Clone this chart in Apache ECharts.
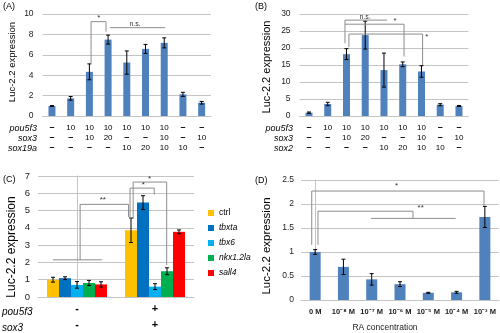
<!DOCTYPE html>
<html><head><meta charset="utf-8">
<script src="https://cdn.jsdelivr.net/npm/echarts@6/dist/echarts.min.js"></script>
<style>html,body{margin:0;padding:0;background:#fff}#c{width:500px;height:333px}</style>
</head><body><div id="c"></div>
<script>
// ---------- DATA ----------
const aCols = ['1','2','3','4','5','6','7','8','9'];
const aPou5f3 = ['–','10','10','10','10','10','10','–','–'];
const aSox3   = ['–','–','10','20','–','–','10','–','10'];
const aSox19a = ['–','–','–','–','10','20','10','10','–'];
const aValues = [0.98,1.73,4.33,7.49,5.24,6.58,7.17,2.12,1.3];
const aErrors = [0.04,0.18,0.78,0.44,1.14,0.44,0.49,0.2,0.13];
const aTicks = [0,2,4,6,8,10];

const bCols = ['1','2','3','4','5','6','7','8','9'];
const bPou5f3 = ['–','10','10','10','10','10','10','–','–'];
const bSox3   = ['–','–','10','20','–','–','10','–','10'];
const bSox2   = ['–','–','–','–','10','20','10','10','–'];
const bValues = [0.98,3.53,18.2,23.8,13.5,15.2,13.1,3.33,2.94];
const bErrors = [0.2,0.5,1.6,4.1,5.0,0.7,1.7,0.3,0.15];

const cGroups = ['-','+'];
const cSox3Row = ['-','+'];
const cSeriesNames = ['ctrl','tbxta','tbx6','nkx1.2la','sall4'];
const cCtrl    = [1.0, 3.86];
const cTbxta   = [1.09, 5.46];
const cTbx6    = [0.7, 0.6];
const cNkx     = [0.81, 1.49];
const cSall4   = [0.73, 3.77];
const cCtrlErr  = [0.14, 0.71];
const cTbxtaErr = [0.08, 0.4];
const cTbx6Err  = [0.19, 0.17];
const cNkxErr   = [0.15, 0.2];
const cSall4Err = [0.15, 0.11];

const dConc = ['0 M','10⁻⁸ M','10⁻⁷ M','10⁻⁶ M','10⁻⁵ M','10⁻⁴ M','10⁻³ M'];
const dValues = [1.0,0.69,0.43,0.33,0.15,0.16,1.73];
const dErrors = [0.05,0.16,0.12,0.05,0.01,0.02,0.22];

// significance brackets (data coordinates: [category position, value])
const aBrackets = [
  [[2.09,5.2],[2.09,9.25],[2.89,9.25],[2.89,8.27]],
  [[3.1,8.66],[6.05,8.66]]
];
const aMarks = [['*',2.5,9.6],['n.s.',4.44,9.05]];
const bBrackets = [
  [[1.92,21.4],[1.92,28.2],[4.16,28.2]],
  [[1.92,27.0],[5.07,27.0],[5.07,17.5]],
  [[2.13,20.2],[2.13,24.1],[6.06,24.1],[6.06,15.0]]
];
const bMarks = [['n.s.',2.99,29.2],['*',4.59,27.9],['*',6.28,23.2]];
const cBrackets = [
  [[-0.31,2.15],[0.32,2.15]],
  [[0.04,2.15],[0.04,5.36],[0.66,5.36],[0.66,4.63]],
  [[0.68,4.52],[0.68,6.3],[0.99,6.3],[0.99,5.93]],
  [[0.72,4.52],[0.72,6.65],[1.15,6.65],[1.15,1.85]]
];
const cMarks = [['**',0.33,5.6],['*',0.85,6.5],['*',0.93,6.85]];
const dBrackets = [
  [[-0.12,1.15],[-0.12,2.27],[5.97,2.27],[5.97,1.96]],
  [[0.1,1.15],[0.1,1.85],[3.46,1.85],[3.46,1.70]],
  [[1.97,1.70],[4.97,1.70]]
];
const dMarks = [['*',2.88,2.37],['**',3.73,1.93]];

// ---------- CHART ----------
const BLUE = '#4F81BD';
const cColors = ['#FFC000','#0070C0','#00B0F0','#00B050','#FF0000'];
const GRID_COLOR = '#c4c4c4';
const FONT = 'Liberation Sans, Arial, sans-serif';

const grids = [
  {left:42.6, top:14, width:168.4, height:102},
  {left:299.6, top:14, width:168.75, height:102},
  {left:38, top:176, width:156, height:124},
  {left:301, top:180, width:198, height:120}
];
const nCats = [aCols.length, bCols.length, cGroups.length, dConc.length];

function tableFormatter(r1, r2, r3) {
  return function (val, idx) {
    const f = s => s === '–' ? '{d|–}' : '{n|' + s + '}';
    return f(r1[idx]) + '\n' + f(r2[idx]) + '\n' + f(r3[idx]);
  };
}
const tableRich = {
  d: {fontSize: 9, fontWeight: 'bold', lineHeight: 10, color: '#000', fontFamily: FONT},
  n: {fontSize: 8, lineHeight: 10, color: '#000', fontFamily: FONT}
};

const catAxisBase = {
  type: 'category',
  axisTick: {show: false},
  axisLine: {lineStyle: {color: GRID_COLOR}},
};
const xAxes = [
  Object.assign({}, catAxisBase, {gridIndex:0, data:aCols,
    axisLabel:{margin:7, formatter: tableFormatter(aPou5f3,aSox3,aSox19a), rich: tableRich, interval:0}}),
  Object.assign({}, catAxisBase, {gridIndex:1, data:bCols,
    axisLabel:{margin:7, formatter: tableFormatter(bPou5f3,bSox3,bSox2), rich: tableRich, interval:0}}),
  Object.assign({}, catAxisBase, {gridIndex:2, data:cGroups,
    axisLabel:{margin:4, interval:0, fontSize:11, fontWeight:'bold', lineHeight:16, color:'#000', fontFamily: FONT,
      formatter:(v,i)=> cGroups[i] + '\n' + cSox3Row[i]}}),
  Object.assign({}, catAxisBase, {gridIndex:3, data:dConc,
    axisLabel:{margin:8, interval:0, fontSize:7.5, fontWeight:'bold', color:'#222', fontFamily: FONT}}),
];
for (let g = 0; g < 4; g++) {
  xAxes.push({type:'value', gridIndex:g, min:-0.5, max:nCats[g]-0.5, show:false, splitLine:{show:false}});
}

function yAxis(g, max, interval, fs, margin, showLine) {
  return {
    type:'value', gridIndex:g, min:0, max:max, interval:interval,
    axisLine:{show:showLine, lineStyle:{color:GRID_COLOR}},
    axisTick:{show:false},
    splitLine:{lineStyle:{color:GRID_COLOR, width:1}},
    axisLabel:{fontSize:fs, color:'#222', margin:margin, fontFamily: FONT}
  };
}
const yAxes = [
  yAxis(0, aTicks[aTicks.length-1], 2, 8.5, 9, false),
  yAxis(1, 30, 5, 8.5, 9, false),
  yAxis(2, 7, 1, 9.5, 8, true),
  yAxis(3, 2.5, 0.5, 8.5, 7, true)
];

function errorSeries(g, vals, errs, pxOffset) {
  return {
    type:'custom', xAxisIndex:4+g, yAxisIndex:g, z:5, silent:true,
    data: vals.map((v,i)=>[i, v, errs[i]]),
    renderItem: function (params, api) {
      const x = api.value(0), v = api.value(1), e = api.value(2);
      const t = api.coord([x, v+e]), b = api.coord([x, v-e]);
      const cx = t[0] + (pxOffset || 0);
      const cap = 2;
      const st = {stroke:'#000', lineWidth:1};
      return {type:'group', children:[
        {type:'line', shape:{x1:cx, y1:t[1], x2:cx, y2:b[1]}, style:st},
        {type:'line', shape:{x1:cx-cap, y1:t[1], x2:cx+cap, y2:t[1]}, style:st},
        {type:'line', shape:{x1:cx-cap, y1:b[1], x2:cx+cap, y2:b[1]}, style:st}
      ]};
    }
  };
}
function bracketSeries(g, brackets) {
  return {
    type:'custom', xAxisIndex:4+g, yAxisIndex:g, z:6, silent:true,
    data: brackets.map((b,i)=>[i]),
    renderItem: function (params, api) {
      const pts = brackets[params.dataIndex].map(p => api.coord(p));
      return {type:'polyline', shape:{points:pts}, style:{stroke:'#8c8c8c', lineWidth:1, fill:null}};
    }
  };
}
function markSeries(g, marks, fs) {
  return {
    type:'custom', xAxisIndex:4+g, yAxisIndex:g, z:7, silent:true,
    data: marks.map((m,i)=>[m[1], m[2]]),
    renderItem: function (params, api) {
      const p = api.coord([api.value(0), api.value(1)]);
      const txt = marks[params.dataIndex][0];
      return {type:'text', x:p[0], y:p[1], style:{text:txt, align:'center', verticalAlign:'middle',
        fontSize: txt === 'n.s.' ? 7 : fs, fill:'#333', fontFamily: FONT}};
    }
  };
}

const series = [];
series.push({type:'bar', xAxisIndex:0, yAxisIndex:0, data:aValues, barWidth:7, itemStyle:{color:BLUE}});
series.push({type:'bar', xAxisIndex:1, yAxisIndex:1, data:bValues, barWidth:7, itemStyle:{color:BLUE}});
const cVals = [cCtrl, cTbxta, cTbx6, cNkx, cSall4];
const cErrs = [cCtrlErr, cTbxtaErr, cTbx6Err, cNkxErr, cSall4Err];
cSeriesNames.forEach((nm, k) => {
  series.push({type:'bar', name:nm, xAxisIndex:2, yAxisIndex:2, data:cVals[k], barWidth:12, barGap:'0%',
    itemStyle:{color:cColors[k]}});
});
series.push({type:'bar', xAxisIndex:3, yAxisIndex:3, data:dValues, barWidth:11, itemStyle:{color:BLUE}});

series.push(errorSeries(0, aValues, aErrors));
series.push(errorSeries(1, bValues, bErrors));
cSeriesNames.forEach((nm, k) => series.push(errorSeries(2, cVals[k], cErrs[k], (k-2)*12)));
series.push(errorSeries(3, dValues, dErrors));

series.push(bracketSeries(0, aBrackets), markSeries(0, aMarks, 8));
series.push(bracketSeries(1, bBrackets), markSeries(1, bMarks, 8));
series.push(bracketSeries(2, cBrackets), markSeries(2, cMarks, 8));
series.push(bracketSeries(3, dBrackets), markSeries(3, dMarks, 8));

function txt(x, y, text, opt) {
  return Object.assign({type:'text', x:x, y:y, silent:true,
    style:Object.assign({text:text, fill:'#000', fontFamily: FONT, verticalAlign:'middle'}, opt || {})});
}
function rotTxt(x, y, text, fs) {
  return {type:'text', x:x, y:y, rotation:Math.PI/2, silent:true,
    style:{text:text, fill:'#000', fontFamily: FONT, fontSize:fs, align:'center', verticalAlign:'middle'}};
}
const graphics = [
  txt(3, 7, '(A)', {fontSize:9}),
  txt(255, 7, '(B)', {fontSize:9}),
  txt(3, 180, '(C)', {fontSize:9}),
  txt(255, 181, '(D)', {fontSize:9}),
  rotTxt(12, 62, 'Luc-2.2 expression', 9.5),
  rotTxt(267, 67, 'Luc-2.2 expression', 11),
  rotTxt(12, 247, 'Luc-2.2 expression', 12),
  rotTxt(267, 246, 'Luc-2.2 expression', 11.5),
  txt(37, 128, 'pou5f3', {fontSize:9, fontStyle:'italic', align:'right'}),
  txt(37, 138, 'sox3', {fontSize:9, fontStyle:'italic', align:'right'}),
  txt(37, 148, 'sox19a', {fontSize:9, fontStyle:'italic', align:'right'}),
  txt(293, 128, 'pou5f3', {fontSize:9, fontStyle:'italic', align:'right'}),
  txt(293, 138, 'sox3', {fontSize:9, fontStyle:'italic', align:'right'}),
  txt(293, 148, 'sox2', {fontSize:9, fontStyle:'italic', align:'right'}),
  txt(2, 312, 'pou5f3', {fontSize:10, fontStyle:'italic', align:'left'}),
  txt(2, 328, 'sox3', {fontSize:10, fontStyle:'italic', align:'left'}),
  txt(385, 328, 'RA concentration', {fontSize:8.5, align:'center', fill:'#222'})
];

const chart = echarts.init(document.getElementById('c'), null, {renderer:'canvas'});
chart.setOption({
  animation:false,
  textStyle:{fontFamily: FONT},
  grid: grids,
  xAxis: xAxes,
  yAxis: yAxes,
  legend: {
    orient:'vertical', left:203, top:203, itemWidth:6, itemHeight:6, itemGap:5,
    icon:'rect',
    textStyle:{fontSize:8.5, fontStyle:'italic', color:'#000', lineHeight:10, fontFamily: FONT},
    data: cSeriesNames.map(n => n === 'ctrl' ? {name:n, textStyle:{fontStyle:'normal'}} : {name:n})
  },
  series: series,
  graphic: graphics
});
</script>
</body></html>
